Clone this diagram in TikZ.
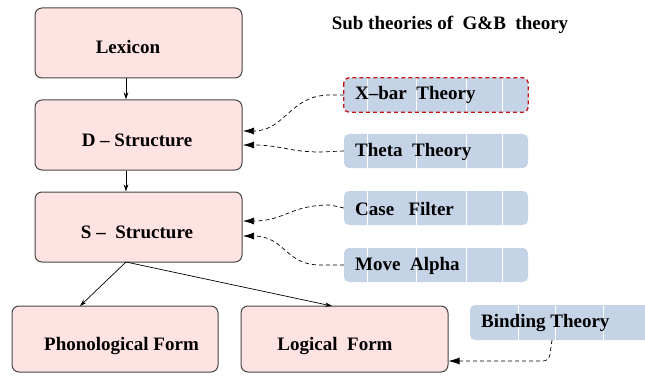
\documentclass[tikz,border=0pt]{standalone}
\usepackage{fontspec}
\setmainfont{Liberation Serif}
\usetikzlibrary{arrows.meta}
\definecolor{pinkfill}{RGB}{255,226,226}
\definecolor{pinkline}{RGB}{70,70,70}
\definecolor{bluefill}{RGB}{197,211,230}
\definecolor{redline}{RGB}{200,20,20}
\tikzset{
  pinkbox/.style={draw=pinkline, line width=1pt, fill=pinkfill, rounded corners=7pt, minimum height=70pt, inner sep=0pt},
  bluebox/.style={fill=bluefill, rounded corners=5pt, minimum width=184pt, minimum height=34pt, inner sep=0pt},
  lbl/.style={font=\fontsize{19}{22}\selectfont\bfseries, inner sep=0pt},
  blbl/.style={font=\fontsize{19}{22}\selectfont\bfseries, inner sep=0pt, anchor=west},
  sep/.style={draw=white, line width=0.8pt},
  flow/.style={draw, line width=0.7pt, -{Stealth[length=7pt,width=4.5pt]}},
  feed/.style={draw, line width=0.7pt, dashed, dash pattern=on 4pt off 3pt, -{Latex[length=11pt,width=7pt]}}
}
\begin{document}
\begin{tikzpicture}[x=1pt,y=-1pt]
\useasboundingbox (0,0) rectangle (645,377);
% pink boxes
\node[pinkbox, minimum width=207pt] (lex) at (138.5,43) {};
\node[pinkbox, minimum width=207pt] (ds) at (138.5,135) {};
\node[pinkbox, minimum width=207pt] (ss) at (138.5,227) {};
\node[pinkbox, minimum width=206pt, minimum height=66pt] (pf) at (115,339) {};
\node[pinkbox, minimum width=207pt, minimum height=66pt] (lf) at (344.5,339) {};
\node[lbl] (lexT) at (128,47) {Lexicon};
\node[lbl] (dsT) at (137,140) {D -- Structure};
\node[lbl] (ssT) at (137,232) {S --\ \ Structure};
\node[lbl] (pfT) at (121.5,346) {Phonological Form};
\node[lbl] (lfT) at (335,346) {Logical\ \ Form};
% title
\node[lbl] (title) at (450,25) {Sub theories of\ \ G\&B\ \ theory};
% blue boxes
\node[bluebox] (xb) at (436,95) {};
\node[bluebox] (th) at (436,151) {};
\node[bluebox] (cf) at (436,208) {};
\node[bluebox] (ma) at (436,265) {};
\node[bluebox, minimum width=184pt, minimum height=35pt] (bt) at (562,322.5) {};
\foreach \b in {xb,th,cf,ma}{
  \foreach \d in {24,73,123,159}{
    \draw[sep] ([xshift=\d pt]\b.north west) -- ([xshift=\d pt]\b.south west);
  }
}
\foreach \d in {49,86,134}{
  \draw[sep] ([xshift=\d pt]bt.north west) -- ([xshift=\d pt]bt.south west);
}
\draw[redline, line width=1.3pt, dash pattern=on 4pt off 3pt, rounded corners=5pt] (xb.north west) rectangle (xb.south east);
\node[blbl] (xbT) at (355,95) {X--bar\ \ Theory};
\node[blbl] (thT) at (355,152) {Theta\ \ Theory};
\node[blbl] (cfT) at (355,209) {Case\ \ \ Filter};
\node[blbl] (maT) at (355,266) {Move\ \ Alpha};
\node[blbl] (btT) at (481,323) {Binding Theory};
% solid flow
\draw[flow] (lex.south -| 126,0) -- (ds.north -| 126,0);
\draw[flow] (ds.south -| 126,0) -- (ss.north -| 126,0);
\coordinate (ssb) at (126,262);
\draw[flow] (ssb) -- (80,306);
\draw[flow] (ssb) -- (332,306);
% dashed feeds
\coordinate (d1) at (243,131);
\coordinate (d2) at (243,145);
\coordinate (s1) at (243,221);
\coordinate (s2) at (243,236);
\draw[feed] (xb.west) -- (330,95) .. controls (290,95) and (285,131) .. (d1);
\draw[feed] (th.west) -- (320,152) .. controls (290,152) and (280,145) .. (d2);
\draw[feed] (cf.west) -- (330,205) .. controls (290,205) and (285,221) .. (s1);
\draw[feed] (ma.west) -- (320,265) .. controls (285,265) and (285,236) .. (s2);
\coordinate (bcorner) at (549,361);
\draw[feed, rounded corners=6pt] (552,340) -- (bcorner) -- (lf.east |- bcorner);
\end{tikzpicture}
\end{document}
